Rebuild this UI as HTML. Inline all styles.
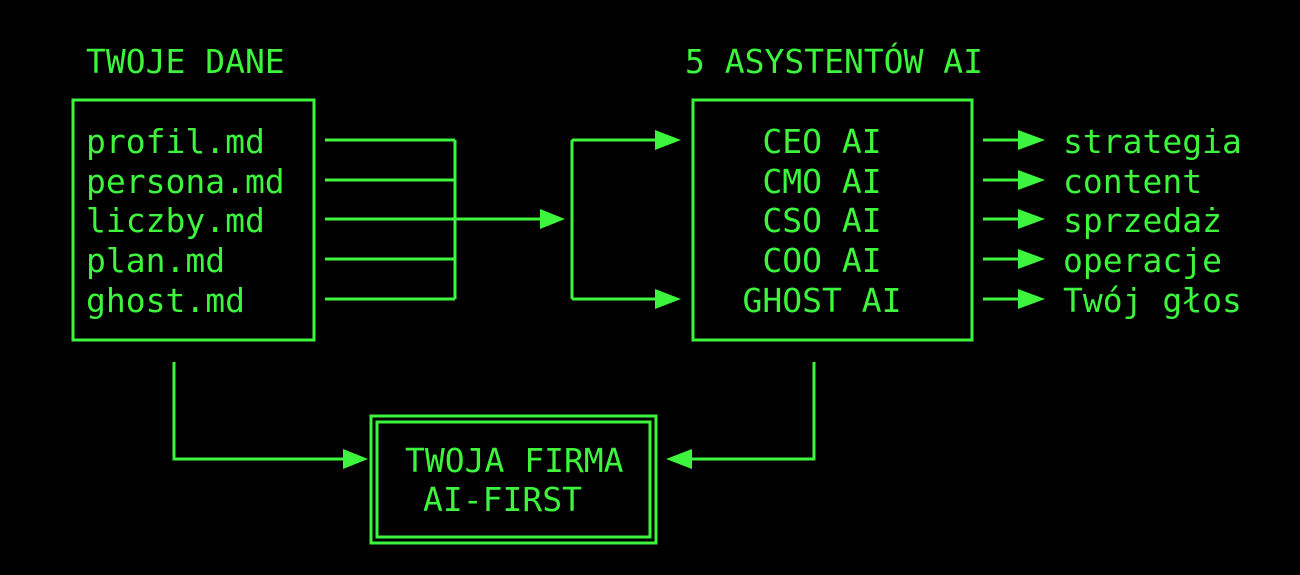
<!DOCTYPE html>
<html><head><meta charset="utf-8"><style>
html,body{margin:0;padding:0;background:#000;width:1300px;height:575px;overflow:hidden}
svg{display:block}
text{font-family:"DejaVu Sans Mono","Liberation Mono",monospace;font-size:33px;fill:#3cf53c}
</style></head><body>
<svg width="1300" height="575" viewBox="0 0 1300 575">
<g stroke="#3cf53c" stroke-width="3" fill="none">
<rect x="73" y="100" width="241" height="240"/>
<rect x="693" y="100" width="279" height="240"/>
<rect x="371" y="416" width="285" height="127"/>
<rect x="377" y="422" width="273" height="115"/>
<path d="M325 140H455M325 180H455M325 219H540M325 259H455M325 299H455M455 140V299"/>
<path d="M572 140V299M572 140H655M572 299H655"/>
<path d="M983 140H1020M983 180H1020M983 219H1020M983 259H1020M983 299H1020"/>
<path d="M174 362V459H345M814 362V459H690"/>
</g>
<g fill="#3cf53c">
<polygon points="540,209 565,219 540,229"/>
<polygon points="655,130 681,140 655,150"/>
<polygon points="655,289 681,299 655,309"/>
<polygon points="1018,130 1045,140 1018,150"/>
<polygon points="1018,170 1045,180 1018,190"/>
<polygon points="1018,209 1045,219 1018,229"/>
<polygon points="1018,249 1045,259 1018,269"/>
<polygon points="1018,289 1045,299 1018,309"/>
<polygon points="343,449 368,459 343,469"/>
<polygon points="692,449 666,459 692,469"/>
</g>
<text x="86" y="73">TWOJE DANE</text>
<text x="685" y="73">5 ASYSTENTÓW AI</text>
<text x="86" y="153">profil.md</text>
<text x="86" y="193">persona.md</text>
<text x="86" y="232">liczby.md</text>
<text x="86" y="272">plan.md</text>
<text x="86" y="312">ghost.md</text>
<g text-anchor="middle">
<text x="822" y="153">CEO AI</text>
<text x="822" y="193">CMO AI</text>
<text x="822" y="232">CSO AI</text>
<text x="822" y="272">COO AI</text>
<text x="822" y="312">GHOST AI</text>
</g>
<text x="1063" y="153">strategia</text>
<text x="1063" y="193">content</text>
<text x="1063" y="232">sprzedaż</text>
<text x="1063" y="272">operacje</text>
<text x="1063" y="312">Twój głos</text>
<text x="405" y="472">TWOJA FIRMA</text>
<text x="423" y="511">AI-FIRST</text>
</svg>
</body></html>
